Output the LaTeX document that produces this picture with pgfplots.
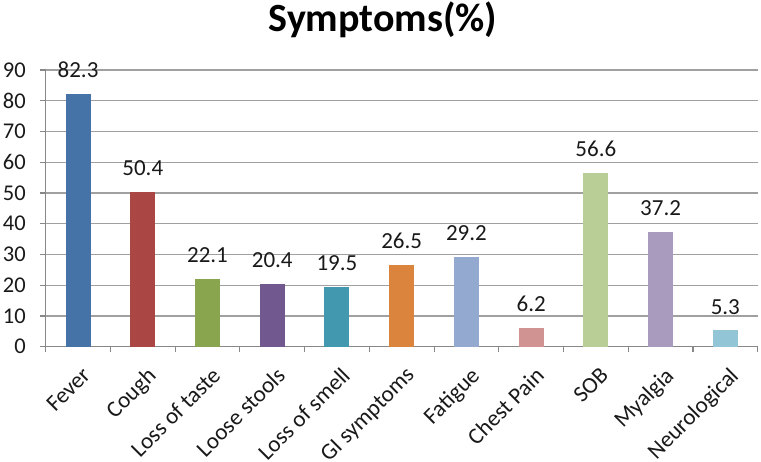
\documentclass[border=0pt]{standalone}
\usepackage{pgfplots}
\pgfplotsset{compat=1.18}
\usepackage{fontspec}
\setmainfont{Carlito}
\newfontfamily\lbl{Carlito}
\definecolor{c1}{HTML}{4572A7}
\definecolor{c2}{HTML}{AA4643}
\definecolor{c3}{HTML}{89A54E}
\definecolor{c4}{HTML}{71588F}
\definecolor{c5}{HTML}{4198AF}
\definecolor{c6}{HTML}{DB843D}
\definecolor{c7}{HTML}{93A9CF}
\definecolor{c8}{HTML}{D19392}
\definecolor{c9}{HTML}{B9CD96}
\definecolor{c10}{HTML}{A99BBD}
\definecolor{c11}{HTML}{92C5D6}
\definecolor{gridc}{HTML}{A0A0A0}
\definecolor{axc}{HTML}{888888}
\begin{document}
\begin{tikzpicture}[x=1pt,y=1pt]
\useasboundingbox (0,0) rectangle (761,462);
\node[font=\bfseries\fontsize{40}{40}\selectfont, anchor=base, inner sep=0pt, text=black] at (383,430.3) {Symptoms(\%)};
\begin{axis}[
  at={(45.7pt,115.3pt)}, anchor=south west,
  width=712pt, height=276.7pt, scale only axis,
  xmin=-0.5, xmax=10.5, ymin=0, ymax=90,
  axis x line=bottom, axis y line=left,
  axis line style={draw=axc, line width=1.2pt, -},
  ytick={0,10,...,90},
  ymajorgrids, grid style={draw=gridc, line width=1.1pt},
  tick align=outside, major tick length=5.5pt,
  tick style={draw=axc, line width=1.1pt},
  xtick={-0.5,0.5,...,10.5}, xticklabels={},
  extra x ticks={0,1,...,10},
  extra x tick labels={Fever,Cough,Loss of taste,Loose stools,Loss of smell,GI symptoms,Fatigue,Chest Pain,SOB,Myalgia,Neurological},
  extra x tick style={major tick length=0pt, grid=none,
    tick label style={xshift=3pt, yshift=-19pt, rotate=45, anchor=north east, inner sep=0pt}},
  /pgf/number format/assume math mode=true,
  /pgf/number format/.cd, fixed, precision=1, fixed zerofill, /pgfplots/.cd,
  yticklabel style={/pgf/number format/precision=0, /pgf/number format/fixed zerofill=false, font=\lbl\fontsize{22.5}{22.5}\selectfont, text=black!90, xshift=-11pt},
  xticklabel style={font=\lbl\fontsize{23}{23}\selectfont, text=black!90},
  ybar, bar width=25pt, bar shift=0pt,
  nodes near coords,
  every node near coord/.append style={font=\lbl\fontsize{23}{23}\selectfont, text=black!90, anchor=south, inner sep=0pt, yshift=16pt},
  clip=false,
]
\addplot[fill=c1, draw=none] coordinates {(0,82.3)};
\addplot[fill=c2, draw=none] coordinates {(1,50.4)};
\addplot[fill=c3, draw=none] coordinates {(2,22.1)};
\addplot[fill=c4, draw=none] coordinates {(3,20.4)};
\addplot[fill=c5, draw=none] coordinates {(4,19.5)};
\addplot[fill=c6, draw=none] coordinates {(5,26.5)};
\addplot[fill=c7, draw=none] coordinates {(6,29.2)};
\addplot[fill=c8, draw=none] coordinates {(7,6.2)};
\addplot[fill=c9, draw=none] coordinates {(8,56.6)};
\addplot[fill=c10, draw=none] coordinates {(9,37.2)};
\addplot[fill=c11, draw=none] coordinates {(10,5.3)};
\end{axis}
\end{tikzpicture}
\end{document}
